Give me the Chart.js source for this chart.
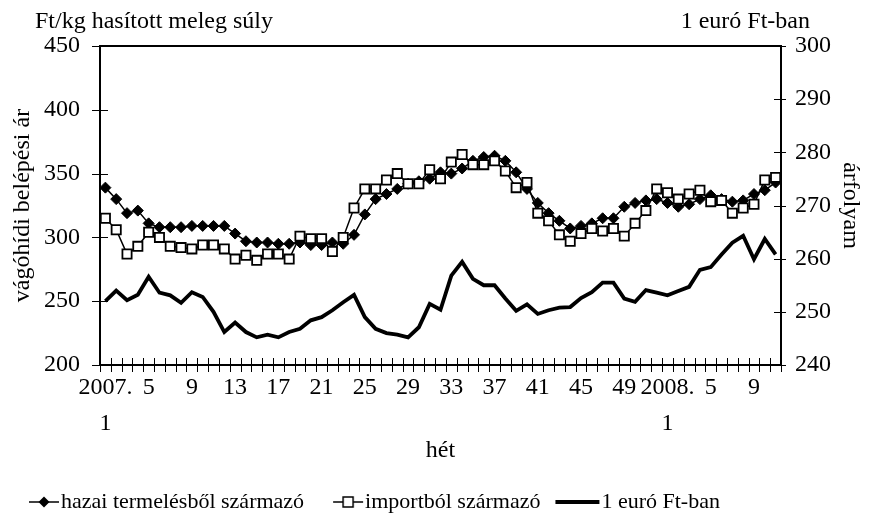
<!DOCTYPE html>
<html lang="hu">
<head>
<meta charset="utf-8">
<script src="https://cdn.jsdelivr.net/npm/chart.js@4.4.0/dist/chart.umd.min.js"></script>
<style>
  html, body { margin: 0; padding: 0; background: #fff; }
</style>
</head>
<body>
<canvas id="sertesChart" width="875" height="531"></canvas>
<script>
// ====== ADATOK ======
// hetek: 2007. 1. hét - 2008. 11. hét
const weeks = [
  '2007. 1', '2', '3', '4', '5', '6', '7', '8', '9', '10', '11', '12', '13',
  '14', '15', '16', '17', '18', '19', '20', '21', '22', '23', '24', '25', '26',
  '27', '28', '29', '30', '31', '32', '33', '34', '35', '36', '37', '38', '39',
  '40', '41', '42', '43', '44', '45', '46', '47', '48', '49', '50', '51', '52',
  '2008. 1', '2', '3', '4', '5', '6', '7', '8', '9', '10', '11'
];

// hazai termelésből származó (Ft/kg)
const hazai = [
  339, 330, 319, 321, 311, 308, 308, 308, 309, 309, 309, 309, 303,
  297, 296, 296, 295, 295, 296, 294, 294, 296, 295, 302, 318, 330,
  334, 338, 342, 344, 346, 351, 350, 354, 360, 363, 364, 360, 351,
  338, 327, 319, 313, 307, 309, 311, 315, 315, 324, 327, 329, 330,
  327, 324, 326, 330, 333, 330, 328, 329, 334, 337, 343
];

// importból származó (Ft/kg)
const importbol = [
  315, 306, 287, 293, 304, 300, 293, 292, 291, 294, 294, 291, 283,
  286, 282, 287, 287, 283, 301, 299, 299, 289, 300, 323, 338, 338,
  345, 350, 342, 342, 353, 346, 359, 365, 357, 357, 360, 352, 339,
  343, 319, 313, 302, 297, 303, 307, 305, 307, 301, 311, 321, 338,
  335, 330, 334, 337, 328, 329, 319, 323, 326, 345, 347
];

// 1 euró Ft-ban
const euro = [
  252.0, 254.0, 252.2, 253.2, 256.6, 253.6, 253.1, 251.7, 253.7, 252.8, 250.0, 246.2, 248.0,
  246.2, 245.2, 245.7, 245.2, 246.2, 246.8, 248.4, 249.0, 250.3, 251.8, 253.2, 249.0, 246.8,
  246.0, 245.7, 245.2, 247.1, 251.5, 250.4, 256.8, 259.4, 256.2, 255.0, 255.0, 252.5, 250.2,
  251.4, 249.6, 250.3, 250.8, 250.9, 252.6, 253.7, 255.5, 255.5, 252.5, 251.9, 254.1, 253.6,
  253.1, 253.9, 254.7, 257.9, 258.4, 260.8, 263.0, 264.3, 259.9, 263.7, 260.8
];

const leftAxis = { min: 200, max: 450, step: 50 };
const rightAxis = { min: 240, max: 300, step: 10 };
// ====================

const FONT = 'Liberation Serif, Times New Roman, serif';
const FS = 24;

// legend ikonok: vonal + jelölő, ahogy az eredeti ábrán
// (a kép jobb széle a szöveg elé esik, a bal fele üres)
function legendIcon(type) {
  const c = document.createElement('canvas');
  c.width = 60; c.height = 14;
  const g = c.getContext('2d');
  g.strokeStyle = '#000';
  const len = type === 'euro' ? 44 : 30;
  g.lineWidth = type === 'euro' ? 4 : 1.5;
  g.beginPath();
  g.moveTo(59 - len, 7); g.lineTo(59, 7);
  g.stroke();
  const mid = 59 - len / 2;
  if (type === 'hazai') {
    g.fillStyle = '#000';
    g.beginPath();
    g.moveTo(mid, 1.5); g.lineTo(mid + 5.5, 7); g.lineTo(mid, 12.5); g.lineTo(mid - 5.5, 7);
    g.closePath(); g.fill();
  } else if (type === 'import') {
    g.fillStyle = '#fff';
    g.lineWidth = 1.5;
    g.fillRect(mid - 5, 2, 10, 10);
    g.strokeRect(mid - 5, 2, 10, 10);
  }
  return c;
}
const icons = [legendIcon('hazai'), legendIcon('import'), legendIcon('euro')];

// tengelyek és keresztező osztásjelek (Excel stílus)
const axisFrame = {
  id: 'axisFrame',
  beforeDatasetsDraw(chart) {
    const { ctx, chartArea: a, scales } = chart;
    ctx.save();
    ctx.strokeStyle = '#000';
    ctx.lineWidth = 1;
    // bal tengely osztásai
    scales.y.ticks.forEach(t => {
      const y = Math.round(scales.y.getPixelForValue(t.value)) + 0.5;
      ctx.beginPath(); ctx.moveTo(a.left - 8, y); ctx.lineTo(a.left + 8, y); ctx.stroke();
    });
    // jobb tengely osztásai
    scales.y1.ticks.forEach(t => {
      const y = Math.round(scales.y1.getPixelForValue(t.value)) + 0.5;
      ctx.beginPath(); ctx.moveTo(a.right - 7, y); ctx.lineTo(a.right + 5, y); ctx.stroke();
    });
    // vízszintes tengely: osztás minden hét határán
    const n = weeks.length;
    for (let i = 0; i <= n; i++) {
      const x = Math.round(a.left + (a.right - a.left) * i / n) + 0.5;
      ctx.beginPath(); ctx.moveTo(x, a.bottom - 7); ctx.lineTo(x, a.bottom + 7); ctx.stroke();
    }
    ctx.lineWidth = 2;
    ctx.beginPath();
    ctx.moveTo(a.left, a.top); ctx.lineTo(a.right, a.top);
    ctx.moveTo(a.left, a.top - 1); ctx.lineTo(a.left, a.bottom + 1);
    ctx.moveTo(a.right, a.top - 1); ctx.lineTo(a.right, a.bottom + 1);
    ctx.moveTo(a.left - 1, a.bottom); ctx.lineTo(a.right + 1, a.bottom);
    ctx.stroke();

    // feliratok a tengelyek felett
    ctx.fillStyle = '#000';
    ctx.font = FS + 'px ' + FONT;
    ctx.textBaseline = 'middle';
    ctx.textAlign = 'left';
    ctx.fillText('Ft/kg hasított meleg súly', 35, 22);
    ctx.textAlign = 'right';
    ctx.fillText('1 euró Ft-ban', 810, 22);
    ctx.restore();
  }
};

const ctx = document.getElementById('sertesChart').getContext('2d');
const sertesChart = new Chart(ctx, {
  type: 'line',
  data: {
    labels: weeks,
    datasets: [
      {
        label: 'hazai termelésből származó',
        data: hazai,
        yAxisID: 'y',
        borderColor: '#000',
        borderWidth: 1.5,
        pointStyle: 'rectRot',
        pointRadius: 5.5,
        pointBackgroundColor: '#000',
        pointBorderColor: '#000',
        pointBorderWidth: 1,
        tension: 0,
        order: 2
      },
      {
        label: 'importból származó',
        data: importbol,
        yAxisID: 'y',
        borderColor: '#000',
        borderWidth: 1.5,
        pointStyle: 'rect',
        pointRadius: 6.5,
        pointBackgroundColor: '#fff',
        pointBorderColor: '#000',
        pointBorderWidth: 1.8,
        tension: 0,
        order: 1
      },
      {
        label: '1 euró Ft-ban',
        data: euro,
        yAxisID: 'y1',
        borderColor: '#000',
        borderWidth: 3.8,
        pointRadius: 0,
        tension: 0,
        order: 3
      }
    ]
  },
  options: {
    responsive: false,
    animation: false,
    events: [],
    layout: { padding: { top: 46, left: 0, right: 0, bottom: 8 } },
    plugins: {
      tooltip: { enabled: false },
      legend: {
        position: 'bottom',
        align: 'start',
        labels: {
          color: '#000',
          font: { family: FONT, size: 22 },
          usePointStyle: true,
          pointStyleWidth: 40,
          padding: 10,
          sort: (a, b) => a.datasetIndex - b.datasetIndex,
          generateLabels: (chart) => {
            const items = Chart.defaults.plugins.legend.labels.generateLabels(chart);
            items.forEach(it => { it.pointStyle = icons[it.datasetIndex]; });
            return items;
          }
        }
      }
    },
    scales: {
      x: {
        type: 'category',
        offset: true,
        grid: { display: false, drawTicks: false },
        border: { display: false },
        afterFit: (s) => { s.height = 116; },
        ticks: {
          autoSkip: false,
          maxRotation: 0,
          minRotation: 0,
          padding: 5,
          color: '#000',
          font: { family: FONT, size: FS, lineHeight: 1.5 },
          callback: function (val, idx) {
            if (idx % 4 !== 0) return '';
            const lbl = this.getLabelForValue(val);
            return lbl.indexOf('. ') > 0 ? lbl.split(' ') : lbl;
          }
        },
        title: {
          display: true,
          text: 'hét',
          color: '#000',
          font: { family: FONT, size: FS },
          padding: { top: 0, bottom: 16 }
        }
      },
      y: {
        position: 'left',
        min: leftAxis.min,
        max: leftAxis.max,
        grid: { display: false, drawTicks: false },
        border: { display: false },
        afterFit: (s) => { s.width = 100; },
        ticks: {
          stepSize: leftAxis.step,
          padding: 20,
          color: '#000',
          font: { family: FONT, size: FS }
        },
        title: {
          display: true,
          text: 'vágóhídi belépési ár',
          color: '#000',
          font: { family: FONT, size: FS },
          padding: { top: 8, bottom: 0 }
        }
      },
      y1: {
        position: 'right',
        min: rightAxis.min,
        max: rightAxis.max,
        grid: { display: false, drawTicks: false },
        border: { display: false },
        afterFit: (s) => { s.width = 94; },
        ticks: {
          stepSize: rightAxis.step,
          padding: 14,
          color: '#000',
          font: { family: FONT, size: FS }
        },
        title: {
          display: true,
          text: 'árfolyam',
          color: '#000',
          font: { family: FONT, size: FS },
          padding: { top: 10, bottom: 0 }
        }
      }
    }
  },
  plugins: [axisFrame]
});
</script>
</body>
</html>
